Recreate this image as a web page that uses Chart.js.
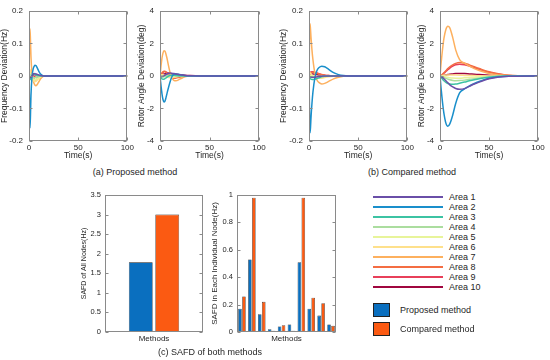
<!DOCTYPE html>
<html><head><meta charset="utf-8">
<script src="https://cdn.jsdelivr.net/npm/chart.js@4.4.1/dist/chart.umd.min.js"></script>
<style>
body{margin:0;background:#fff;}
#wrap{position:relative;width:550px;height:360px;overflow:hidden;font-family:"Liberation Sans",Arial,Helvetica,sans-serif;color:#262626;background:#fff;}
#wrap canvas{position:absolute;}
.cap{position:absolute;font-size:9px;white-space:nowrap;transform:translate(-50%,-50%);line-height:1;}
.lt{position:absolute;font-size:9px;white-space:nowrap;transform:translateY(-50%);line-height:1;}
.ll{position:absolute;height:2.5px;}
.lb{position:absolute;box-sizing:border-box;border:1px solid #222;}
</style></head><body>
<div id="wrap"></div>
<script>
// ---------------- DATA ----------------
const AREAS = ['Area 1','Area 2','Area 3','Area 4','Area 5','Area 6','Area 7','Area 8','Area 9','Area 10'];
const AREA_COLORS = ['#6a4fa8','#1a8fcb','#3cc3a3','#abdd9f','#e8f49a','#fee08b','#fdb05e','#f46d43','#e8405a','#a0063f'];
const METHODS = ['Proposed method','Compared method'];
const METHOD_COLORS = ['#0a6fbf','#fb5a12'];

const TIME_TICKS = [0, 50, 100];
const FREQ_TICKS = [-0.2, -0.1, 0, 0.1, 0.2];
const ANGLE_TICKS = [-4, -2, 0, 2, 4];
const SAFD_ALL_TICKS = [0, 0.5, 1, 1.5, 2, 2.5, 3, 3.5];
const SAFD_NODE_TICKS = [0, 0.2, 0.4, 0.6, 0.8, 1];

// time samples (s)
const T_PROP = [0,0.5,1,1.5,2,3,4,5,6,7,8,10,12,14,16,20,25,30,40,100];
const T_COMP = [0,0.5,1,1.5,2,3,4,6,8,10,13,16,20,25,30,35,40,50,70,100];

// (a) proposed – frequency deviation (Hz), one row per area
const freqProp = [
  [0,-0.002,-0.004,-0.005,-0.004,0,0.004,0.006,0.007,0.006,0.005,0.003,0.001,0,0,0,0,0,0,0],
  [0,-0.09,-0.16,-0.12,-0.06,-0.005,0.018,0.028,0.033,0.032,0.027,0.014,0.005,0.001,0,0,0,0,0,0],
  [0,-0.008,-0.012,-0.01,-0.006,0,0.003,0.004,0.004,0.003,0.002,0.001,0,0,0,0,0,0,0,0],
  [0,0.002,0.004,0.003,0,-0.003,-0.005,-0.006,-0.006,-0.005,-0.004,-0.002,0,0,0,0,0,0,0,0],
  [0,0.004,0.008,0.006,0.002,-0.004,-0.008,-0.011,-0.012,-0.011,-0.009,-0.005,-0.002,0,0,0,0,0,0,0],
  [0,0.01,0.02,0.015,0.005,-0.005,-0.012,-0.016,-0.018,-0.017,-0.014,-0.008,-0.003,0,0,0,0,0,0,0],
  [0,0.09,0.145,0.11,0.06,0.01,-0.012,-0.022,-0.028,-0.03,-0.028,-0.018,-0.008,-0.002,0,0,0,0,0,0],
  [0,0.008,0.015,0.014,0.01,0.003,-0.004,-0.009,-0.012,-0.012,-0.01,-0.005,-0.002,0,0,0,0,0,0,0],
  [0,0.006,0.012,0.013,0.012,0.008,0.004,0,-0.003,-0.004,-0.004,-0.002,0,0,0,0,0,0,0,0],
  [0,0.004,0.008,0.009,0.009,0.008,0.007,0.005,0.004,0.003,0.002,0.001,0.0005,0,0,0,0,0,0,0]
];
// (a) proposed – rotor angle deviation (deg)
const angleProp = [
  [0,-0.01,-0.02,-0.03,-0.03,-0.02,0,0.04,0.08,0.12,0.15,0.18,0.17,0.15,0.12,0.07,0.03,0.01,0,0],
  [0,-0.3,-0.6,-0.85,-1.1,-1.45,-1.6,-1.55,-1.35,-1.1,-0.85,-0.4,-0.05,0.1,0.12,0.08,0.03,0.01,0,0],
  [0,-0.05,-0.1,-0.15,-0.18,-0.2,-0.2,-0.17,-0.13,-0.08,-0.04,0.02,0.04,0.04,0.03,0.01,0,0,0,0],
  [0,-0.02,-0.04,-0.05,-0.06,-0.06,-0.05,-0.03,-0.01,0.01,0.02,0.03,0.02,0.01,0,0,0,0,0,0],
  [0,0.01,0.02,0.03,0.03,0.02,0,-0.02,-0.04,-0.05,-0.05,-0.04,-0.03,-0.02,-0.01,0,0,0,0,0],
  [0,0.02,0.04,0.06,0.07,0.07,0.05,0.02,-0.02,-0.06,-0.08,-0.1,-0.09,-0.07,-0.05,-0.02,0,0,0,0],
  [0,0.3,0.6,0.85,1.1,1.4,1.55,1.52,1.35,1.1,0.8,0.25,-0.12,-0.27,-0.3,-0.2,-0.06,-0.01,0,0],
  [0,0.03,0.08,0.13,0.18,0.25,0.28,0.27,0.22,0.15,0.08,-0.05,-0.12,-0.15,-0.14,-0.08,-0.02,0,0,0],
  [0,0.03,0.07,0.12,0.16,0.22,0.26,0.27,0.25,0.22,0.18,0.12,0.08,0.05,0.03,0.01,0,0,0,0],
  [0,0.01,0.02,0.04,0.06,0.09,0.12,0.14,0.15,0.16,0.16,0.15,0.14,0.12,0.1,0.07,0.04,0.02,0,0]
];
// (b) compared – frequency deviation (Hz)
const freqComp = [
  [0,-0.001,-0.002,-0.003,-0.003,-0.004,-0.004,-0.004,-0.003,-0.002,-0.001,0,0,0,0,0,0,0,0,0],
  [0,-0.1,-0.175,-0.16,-0.13,-0.085,-0.05,-0.005,0.016,0.025,0.03,0.028,0.02,0.01,0.004,0.001,0,0,0,0],
  [0,-0.004,-0.008,-0.009,-0.01,-0.011,-0.011,-0.01,-0.008,-0.006,-0.003,-0.001,0,0,0,0,0,0,0,0],
  [0,-0.002,-0.003,-0.004,-0.004,-0.004,-0.004,-0.003,-0.002,-0.001,0,0,0,0,0,0,0,0,0,0],
  [0,0.001,0.002,0.002,0.002,0.001,0,-0.002,-0.003,-0.003,-0.002,-0.001,0,0,0,0,0,0,0,0],
  [0,0.006,0.01,0.009,0.007,0.003,0,-0.004,-0.006,-0.007,-0.007,-0.005,-0.003,-0.001,0,0,0,0,0,0],
  [0,0.1,0.16,0.145,0.12,0.08,0.05,0.008,-0.012,-0.02,-0.025,-0.023,-0.017,-0.009,-0.004,-0.001,0,0,0,0],
  [0,0.004,0.007,0.009,0.01,0.011,0.011,0.01,0.008,0.006,0.004,0.002,0.001,0,0,0,0,0,0,0],
  [0,0.005,0.009,0.011,0.012,0.013,0.013,0.011,0.009,0.007,0.004,0.002,0.001,0,0,0,0,0,0,0],
  [0,0.002,0.004,0.005,0.006,0.006,0.006,0.005,0.004,0.003,0.002,0.001,0,0,0,0,0,0,0,0]
];
// (b) compared – rotor angle deviation (deg)
const angleComp = [
  [0,-0.01,-0.03,-0.05,-0.07,-0.12,-0.18,-0.3,-0.42,-0.55,-0.68,-0.77,-0.82,-0.78,-0.64,-0.5,-0.38,-0.18,-0.02,0],
  [0,-0.35,-0.7,-1.0,-1.3,-1.85,-2.3,-2.9,-3.1,-2.95,-2.4,-1.7,-1.05,-0.8,-0.62,-0.47,-0.34,-0.15,-0.02,0],
  [0,-0.04,-0.08,-0.12,-0.16,-0.23,-0.3,-0.4,-0.47,-0.5,-0.52,-0.5,-0.45,-0.38,-0.3,-0.23,-0.17,-0.08,-0.01,0],
  [0,-0.01,-0.02,-0.03,-0.04,-0.07,-0.1,-0.15,-0.2,-0.24,-0.28,-0.3,-0.29,-0.26,-0.21,-0.17,-0.13,-0.06,-0.01,0],
  [0,0,-0.01,-0.01,-0.02,-0.03,-0.04,-0.07,-0.09,-0.11,-0.13,-0.14,-0.14,-0.12,-0.1,-0.08,-0.06,-0.03,0,0],
  [0,0.01,0.01,0.02,0.02,0.03,0.04,0.05,0.06,0.06,0.06,0.05,0.04,0.03,0.02,0.02,0.01,0,0,0],
  [0,0.35,0.7,1.0,1.3,1.85,2.3,2.85,3.05,2.95,2.35,1.6,1.0,0.78,0.6,0.45,0.33,0.15,0.02,0],
  [0,0.02,0.04,0.06,0.08,0.13,0.19,0.32,0.45,0.56,0.68,0.77,0.82,0.78,0.68,0.56,0.45,0.25,0.04,0],
  [0,0.01,0.03,0.05,0.07,0.11,0.16,0.27,0.38,0.48,0.6,0.68,0.72,0.68,0.6,0.5,0.4,0.22,0.03,0],
  [0,0,0.01,0.01,0.02,0.03,0.04,0.06,0.08,0.1,0.12,0.14,0.15,0.14,0.12,0.1,0.08,0.04,0.01,0]
];
// (c) SAFD
const safdAll = [1.78, 3.0];              // proposed, compared
const safdNodeProp = [0.17,0.53,0.13,0.02,0.04,0.055,0.51,0.17,0.12,0.055];
const safdNodeComp = [0.26,0.98,0.22,0.01,0.05,0.01,0.98,0.25,0.21,0.045];

// ---------------- DRAWING ----------------
const FONT = '"Liberation Sans", Arial, Helvetica, sans-serif';
Chart.defaults.font.family = FONT;
Chart.defaults.color = '#262626';
const wrap = document.getElementById('wrap');

// MATLAB-style box with inward ticks on all four sides
const boxPlugin = {
  id: 'mbox',
  afterDraw(chart, args, o) {
    const {ctx, chartArea: a, scales} = chart;
    ctx.save();
    ctx.strokeStyle = '#8a8a8a';
    ctx.lineWidth = 1;
    const l = Math.round(a.left) + 0.5, r = Math.round(a.right) - 0.5;
    const t = Math.round(a.top) + 0.5, b = Math.round(a.bottom) - 0.5;
    ctx.strokeRect(l, t, r - l, b - t);
    ctx.beginPath();
    const len = 3;
    scales.y.ticks.forEach(tk => {
      const y = Math.round(scales.y.getPixelForValue(tk.value)) + 0.5;
      ctx.moveTo(l, y); ctx.lineTo(l + len, y); ctx.moveTo(r, y); ctx.lineTo(r - len, y);
    });
    if (o.x) scales.x.ticks.forEach(tk => {
      const x = Math.round(scales.x.getPixelForValue(tk.value)) + 0.5;
      ctx.moveTo(x, b); ctx.lineTo(x, b - len); ctx.moveTo(x, t); ctx.lineTo(x, t + len);
    });
    ctx.stroke();
    ctx.restore();
  }
};

// one canvas per panel, covering only its own region (page coordinates)
function canvasFor(reg) {
  const c = document.createElement('canvas');
  c.width = reg.w; c.height = reg.h;
  c.style.left = reg.x + 'px'; c.style.top = reg.y + 'px';
  wrap.appendChild(c);
  return c;
}
function pad(reg, box) {
  return {left: box.L - box.yW - reg.x, right: reg.x + reg.w - box.R, top: box.T - reg.y, bottom: reg.y + reg.h - box.B - box.xH};
}
function yScale(box, yTicks, yTitle, titleSize, tickSize, tickPad) {
  return {
    type: 'linear', min: yTicks[0], max: yTicks[yTicks.length - 1],
    afterBuildTicks: s => { s.ticks = yTicks.map(v => ({value: v})); },
    grid: {display: false, drawTicks: false}, border: {display: false},
    ticks: {font: {size: tickSize}, padding: tickPad, autoSkip: false, callback: v => String(v)},
    title: {display: true, text: yTitle, font: {size: titleSize}, padding: 0},
    afterFit: s => { s.width = box.yW; }
  };
}

function makeLine(reg, box, T, series, yTicks, yTitle) {
  const datasets = series.map((vals, i) => ({
    label: AREAS[i],
    data: T.map((t, j) => ({x: t, y: vals[j]})),
    borderColor: AREA_COLORS[i],
    borderWidth: 1.5,
    pointRadius: 0,
    cubicInterpolationMode: 'monotone',
    fill: false
  }));
  new Chart(canvasFor(reg), {
    type: 'line',
    data: {datasets},
    options: {
      responsive: false, animation: false, events: [],
      layout: {padding: pad(reg, box)},
      plugins: {legend: {display: false}, tooltip: {enabled: false}, mbox: {x: true}},
      scales: {
        x: {
          type: 'linear', min: TIME_TICKS[0], max: TIME_TICKS[TIME_TICKS.length - 1],
          afterBuildTicks: s => { s.ticks = TIME_TICKS.map(v => ({value: v})); },
          grid: {display: false, drawTicks: false}, border: {display: false},
          ticks: {font: {size: 8}, padding: 2, maxRotation: 0, autoSkip: false, callback: v => String(v)},
          title: {display: true, text: 'Time(s)', font: {size: 8.5}, padding: 0},
          afterFit: s => { s.height = box.xH; }
        },
        y: yScale(box, yTicks, yTitle, 8.5, 8, 6)
      }
    },
    plugins: [boxPlugin]
  });
}

function makeBar(reg, box, labels, values, yTicks, yTitle, yTitleSize, catPct, barPct) {
  const datasets = values.map((vals, i) => ({
    label: METHODS[i],
    data: vals,
    backgroundColor: METHOD_COLORS[i],
    borderColor: '#1a1a1a',
    borderWidth: 0.6,
    categoryPercentage: catPct,
    barPercentage: barPct
  }));
  new Chart(canvasFor(reg), {
    type: 'bar',
    data: {labels, datasets},
    options: {
      responsive: false, animation: false, events: [],
      layout: {padding: pad(reg, box)},
      plugins: {legend: {display: false}, tooltip: {enabled: false}, mbox: {x: false}},
      scales: {
        x: {
          grid: {display: false, drawTicks: false}, border: {display: false},
          ticks: {display: false},
          title: {display: true, text: 'Methods', font: {size: 8}, padding: 0},
          afterFit: s => { s.height = box.xH; }
        },
        y: yScale(box, yTicks, yTitle, yTitleSize, 7.5, 4)
      }
    },
    plugins: [boxPlugin]
  });
}

makeLine({x: 0, y: 0, w: 136, h: 166}, {L: 29, R: 128, T: 7, B: 141, yW: 29, xH: 20}, T_PROP, freqProp, FREQ_TICKS, 'Frequency Deviation(Hz)');
makeLine({x: 136, y: 0, w: 140, h: 166}, {L: 160, R: 259, T: 7, B: 141, yW: 23, xH: 20}, T_PROP, angleProp, ANGLE_TICKS, 'Rotor Angle Deviation(deg)');
makeLine({x: 276, y: 0, w: 140, h: 166}, {L: 309, R: 408, T: 7, B: 141, yW: 30, xH: 20}, T_COMP, freqComp, FREQ_TICKS, 'Frequency Deviation(Hz)');
makeLine({x: 416, y: 0, w: 134, h: 166}, {L: 440, R: 538, T: 7, B: 141, yW: 23, xH: 20}, T_COMP, angleComp, ANGLE_TICKS, 'Rotor Angle Deviation(deg)');

makeBar({x: 60, y: 185, w: 150, h: 162}, {L: 105, R: 203, T: 195, B: 332, yW: 25, xH: 12}, ['Methods'],
  [[safdAll[0]], [safdAll[1]]], SAFD_ALL_TICKS, 'SAFD of All Nodes(Hz)', 7, 0.54, 0.9);
makeBar({x: 208, y: 185, w: 142, h: 162}, {L: 237, R: 336, T: 195, B: 332, yW: 27, xH: 12}, AREAS,
  [safdNodeProp, safdNodeComp], SAFD_NODE_TICKS, 'SAFD in Each Individual Node(Hz)', 8, 0.8, 0.9);

// ---------------- TEXT / LEGEND ----------------
function add(cls, css, text) {
  const d = document.createElement('div');
  d.className = cls;
  Object.assign(d.style, css);
  if (text) d.textContent = text;
  wrap.appendChild(d);
}
add('cap', {left: '135px', top: '172px'}, '(a) Proposed method');
add('cap', {left: '412px', top: '172px'}, '(b) Compared method');
add('cap', {left: '210px', top: '352px'}, '(c) SAFD of both methods');

AREAS.forEach((name, i) => {
  const y = 197 + 10 * i;
  add('ll', {left: '373px', width: '70px', top: (y - 1.25) + 'px', background: AREA_COLORS[i]});
  add('lt', {left: '449px', top: y + 'px'}, name);
});
METHODS.forEach((name, i) => {
  const y = 310 + 19 * i;
  add('lb', {left: '373px', top: (y - 7) + 'px', width: '17px', height: '14px', background: METHOD_COLORS[i]});
  add('lt', {left: '400px', top: y + 'px'}, name);
});
</script>
</body></html>
